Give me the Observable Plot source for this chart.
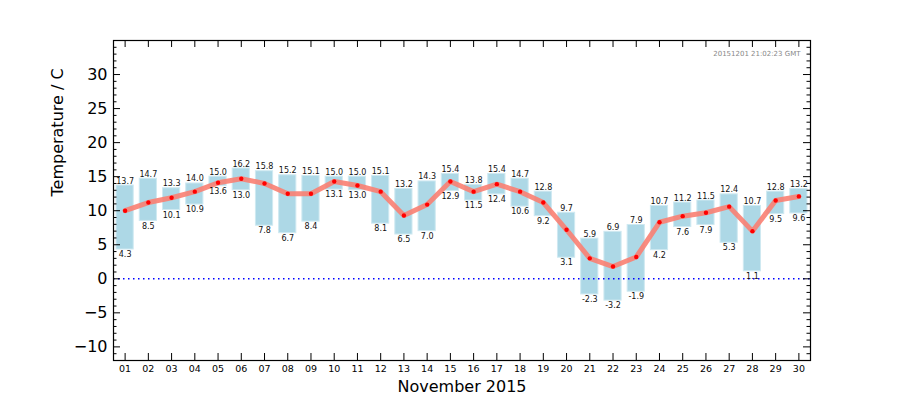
<!DOCTYPE html>
<html><head><meta charset="utf-8">
<script src="https://cdn.jsdelivr.net/npm/d3@7"></script>
<script src="https://cdn.jsdelivr.net/npm/@observablehq/plot@0.6"></script>
<style>body{margin:0;background:#fff}#chart svg{display:block}</style>
</head><body><div id="chart"></div>
<script>
const days = [1,2,3,4,5,6,7,8,9,10,11,12,13,14,15,16,17,18,19,20,21,22,23,24,25,26,27,28,29,30];
const dayLabels = ["01","02","03","04","05","06","07","08","09","10","11","12","13","14","15","16","17","18","19","20","21","22","23","24","25","26","27","28","29","30"];
const tMax = [13.7,14.7,13.3,14.0,15.0,16.2,15.8,15.2,15.1,15.0,15.0,15.1,13.2,14.3,15.4,13.8,15.4,14.7,12.8,9.7,5.9,6.9,7.9,10.7,11.2,11.5,12.4,10.7,12.8,13.2];
const tMin = [4.3,8.5,10.1,10.9,13.6,13.0,7.8,6.7,8.4,13.1,13.0,8.1,6.5,7.0,12.9,11.5,12.4,10.6,9.2,3.1,-2.3,-3.2,-1.9,4.2,7.6,7.9,5.3,1.1,9.5,9.6];
const tMean = [10.0,11.2,11.9,12.8,14.1,14.7,14.0,12.5,12.5,14.3,13.7,12.8,9.3,10.9,14.3,12.8,13.9,12.8,11.2,7.2,3.0,1.8,3.2,8.3,9.2,9.7,10.6,7.0,11.5,12.1];
const yTicks = [-10,-5,0,5,10,15,20,25,30];
const yTickLabels = ["\u221210","\u22125","0","5","10","15","20","25","30"];
const yMinorTicks = [-12,-11,-9,-8,-7,-6,-4,-3,-2,-1,1,2,3,4,6,7,8,9,11,12,13,14,16,17,18,19,21,22,23,24,26,27,28,29,31,32,33,34];
const stamp = ["20151201 21:02:23 GMT"];
const xTitle = ["November 2015"];
const yTitle = ["Temperature / C"];

const data = days.map((d, i) => ({day: d, label: dayLabels[i], max: tMax[i], min: tMin[i], mean: tMean[i]}));
const yTickData = yTicks.map((v, i) => ({v, label: yTickLabels[i]}));

const W = 900, H = 400, mL = 113, mR = 90, mT = 40, mB = 40;
const fw = W - mL - mR, fh = H - mT - mB;
const major = 7, minor = 3.5;

const chart = Plot.plot({
  width: W, height: H,
  marginLeft: mL, marginRight: mR, marginTop: mT, marginBottom: mB,
  style: {fontFamily: "DejaVu Sans", background: "white"},
  x: {domain: [0.5, 30.5], axis: null},
  y: {domain: [-12, 35], axis: null},
  marks: [
    Plot.rect(data, {x1: d => d.day - 0.37, x2: d => d.day + 0.37, y1: "min", y2: "max", fill: "#ADD8E6", stroke: "#cfe9f1", strokeWidth: 1}),
    Plot.ruleY([0], {stroke: "blue", strokeWidth: 1.5, strokeDasharray: "1.5,3.5"}),
    Plot.line(data, {x: "day", y: "mean", stroke: "salmon", strokeWidth: 5, strokeOpacity: 0.9}),
    Plot.dot(data, {x: "day", y: "mean", r: 2.2, fill: "red"}),
    Plot.text(data, {x: "day", y: "max", text: d => d.max.toFixed(1), lineAnchor: "bottom", dy: -2, fontSize: 8, fill: "#111"}),
    Plot.text(data, {x: "day", y: "min", text: d => d.min.toFixed(1), lineAnchor: "top", dy: 2, fontSize: 8, fill: "#111"}),
    Plot.tickY(yTicks, {y: d => d, insetRight: fw - major, stroke: "black"}),
    Plot.tickY(yMinorTicks, {y: d => d, insetRight: fw - minor, stroke: "black"}),
    Plot.tickY(yTicks, {y: d => d, insetLeft: fw - major, stroke: "black"}),
    Plot.tickY(yMinorTicks, {y: d => d, insetLeft: fw - minor, stroke: "black"}),
    Plot.tickX(days, {x: d => d, insetTop: fh - major, stroke: "black"}),
    Plot.tickX(days, {x: d => d, insetBottom: fh - major, stroke: "black"}),
    Plot.frame({stroke: "black", strokeWidth: 1.2}),
    Plot.text(yTickData, {y: "v", text: "label", frameAnchor: "left", textAnchor: "end", dx: -6, fontSize: 16, fill: "black"}),
    Plot.text(data, {x: "day", text: "label", frameAnchor: "bottom", lineAnchor: "top", dy: 5, fontSize: 9.5, fill: "black"}),
    Plot.text(xTitle, {frameAnchor: "bottom", lineAnchor: "middle", dy: 26, fontSize: 16, fill: "black"}),
    Plot.text(yTitle, {frameAnchor: "left", rotate: -90, dx: -56, dy: -4, fontSize: 16, fill: "black"}),
    Plot.text(stamp, {frameAnchor: "top-right", textAnchor: "end", lineAnchor: "middle", dx: -10, dy: 13, fontSize: 7, fill: "#888"})
  ]
});
document.getElementById("chart").appendChild(chart);
</script>
</body></html>
